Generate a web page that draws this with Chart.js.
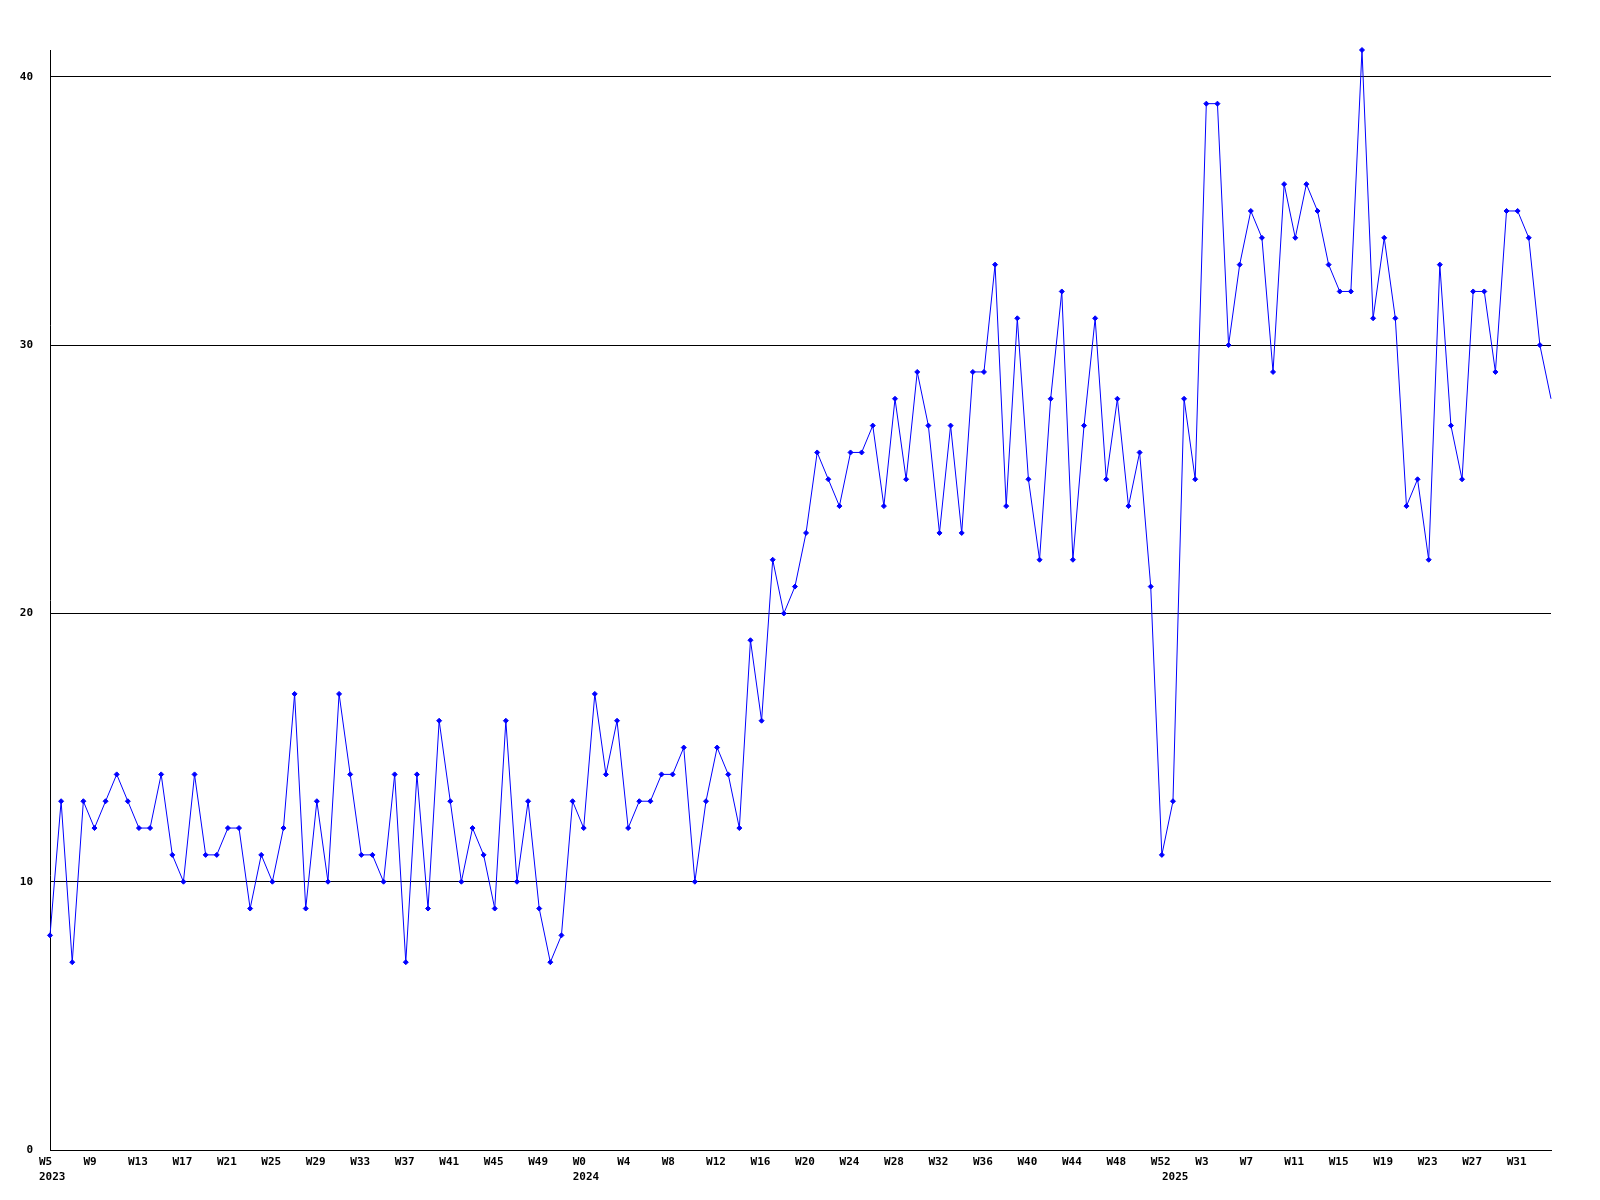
<!DOCTYPE html>
<html>
<head>
<meta charset="utf-8">
<title>Weekly count</title>
<script src="https://cdn.jsdelivr.net/npm/chart.js@4.4.1/dist/chart.umd.min.js"></script>
<style>
    html, body { margin: 0; padding: 0; background: #fff; }
    #chart { display: block; }
</style>
</head>
<body>
<canvas id="chart" width="1600" height="1200"></canvas>
<script>
// week numbers per year (strftime %W style, weeks start at W0)
const weeks2023 = [5, 6, 7, 8, 9, 10, 11, 12, 13, 14, 15, 16, 17, 18, 19, 20, 21, 22, 23, 24,
    25, 26, 27, 28, 29, 30, 31, 32, 33, 34, 35, 36, 37, 38, 39, 40, 41, 42, 43, 44,
    45, 46, 47, 48, 49, 50, 51, 52];
const weeks2024 = [0, 1, 2, 3, 4, 5, 6, 7, 8, 9, 10, 11, 12, 13, 14, 15, 16, 17, 18, 19,
    20, 21, 22, 23, 24, 25, 26, 27, 28, 29, 30, 31, 32, 33, 34, 35, 36, 37, 38, 39,
    40, 41, 42, 43, 44, 45, 46, 47, 48, 49, 50, 51, 52];
const weeks2025 = [0, 1, 2, 3, 4, 5, 6, 7, 8, 9, 10, 11, 12, 13, 14, 15, 16, 17, 18, 19,
    20, 21, 22, 23, 24, 25, 26, 27, 28, 29, 30, 31, 32, 33, 34];

const values2023 = [8, 13, 7, 13, 12, 13, 14, 13, 12, 12, 14, 11, 10, 14, 11, 11, 12, 12, 9, 11,
    10, 12, 17, 9, 13, 10, 17, 14, 11, 11, 10, 14, 7, 14, 9, 16, 13, 10, 12, 11,
    9, 16, 10, 13, 9, 7, 8, 13];
const values2024 = [12, 17, 14, 16, 12, 13, 13, 14, 14, 15, 10, 13, 15, 14, 12, 19, 16, 22, 20, 21,
    23, 26, 25, 24, 26, 26, 27, 24, 28, 25, 29, 27, 23, 27, 23, 29, 29, 33, 24, 31,
    25, 22, 28, 32, 22, 27, 31, 25, 28, 24, 26, 21, 11];
const values2025 = [13, 28, 25, 39, 39, 30, 33, 35, 34, 29, 36, 34, 36, 35, 33, 32, 32, 41, 31, 34,
    31, 24, 25, 22, 33, 27, 25, 32, 32, 29, 35, 35, 34, 30, 28];

const yTicks = [0, 10, 20, 30, 40];
const yMax = 41;

const categories = [
    ...weeks2023.map(w => '2023-W' + w),
    ...weeks2024.map(w => '2024-W' + w),
    ...weeks2025.map(w => '2025-W' + w)
];
const values = [...values2023, ...values2024, ...values2025];

const FONT = { family: '"DejaVu Sans Mono", "Liberation Mono", monospace', size: 11, weight: 'bold', lineHeight: '15px' };

// last point sits on the right edge without a marker
const radii = values.map((v, i) => (i === values.length - 1 ? 0 : 2.5));

const ctx = document.getElementById('chart').getContext('2d');
const chart = new Chart(ctx, {
    type: 'line',
    data: {
        labels: categories,
        datasets: [{
            data: values,
            borderColor: '#0000ff',
            borderWidth: 1,
            backgroundColor: '#0000ff',
            pointStyle: 'rectRot',
            pointRadius: radii,
            pointBorderWidth: 1,
            pointBackgroundColor: '#0000ff',
            pointBorderColor: '#0000ff',
            pointHoverRadius: 0,
            tension: 0,
            fill: false,
            clip: false
        }]
    },
    options: {
        responsive: false,
        animation: false,
        events: [],
        layout: { padding: { top: 50, right: 49, left: 0, bottom: 0 } },
        plugins: {
            legend: { display: false },
            tooltip: { enabled: false }
        },
        scales: {
            x: {
                offset: false,
                grid: { display: false, drawTicks: false },
                border: { display: true, color: '#000', width: 1 },
                afterFit: scale => { scale.height = 50; },
                ticks: {
                    autoSkip: false,
                    maxRotation: 0,
                    minRotation: 0,
                    align: 'start',
                    labelOffset: -11,
                    padding: 5,
                    color: '#000',
                    font: FONT,
                    callback: function (value, index) {
                        const [year, week] = categories[index].split('-');
                        const first = index === 0 || categories[index - 1].slice(0, 4) !== year;
                        const top = index % 4 === 0 ? week : '';
                        return first ? [top, year] : top;
                    }
                }
            },
            y: {
                min: 0,
                max: yMax,
                afterFit: scale => { scale.width = 50; },
                afterBuildTicks: scale => { scale.ticks = yTicks.map(v => ({ value: v })); },
                grid: { color: '#000', lineWidth: 1, drawTicks: false },
                border: { display: true, color: '#000', width: 1 },
                ticks: {
                    padding: 17,
                    color: '#000',
                    font: FONT
                }
            }
        }
    }
});
</script>
</body>
</html>
